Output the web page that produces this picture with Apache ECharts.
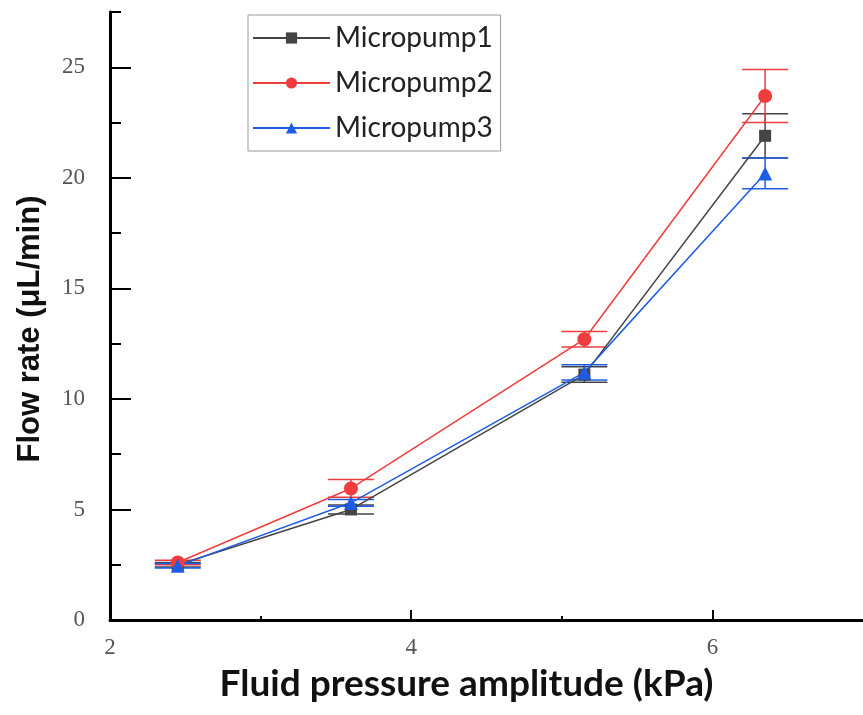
<!DOCTYPE html>
<html>
<head>
<meta charset="utf-8">
<script src="https://cdn.jsdelivr.net/npm/echarts@6/dist/echarts.min.js"></script>
<style>
  html, body { margin: 0; padding: 0; background: #fff; }
  #chart { width: 863px; height: 715px; }
</style>
</head>
<body>
<div id="chart"></div>
<script>
// pressure amplitude (kPa)
var pressure = [2.45, 3.6, 5.15, 6.35];

// flow rate means and error (uL/min)
var pump1 = [2.5, 5.0, 11.1, 21.9];
var pump1Err = [0.1, 0.2, 0.35, 1.0];
var pump2 = [2.6, 5.95, 12.7, 23.7];
var pump2Err = [0.1, 0.4, 0.35, 1.2];
var pump3 = [2.45, 5.3, 11.2, 20.2];
var pump3Err = [0.1, 0.15, 0.35, 0.7];

var names = ['Micropump1', 'Micropump2', 'Micropump3'];
var colors = ['#444444', '#f03c3c', '#1f5ce6'];

var xMajor = [2, 4, 6];
var xMinor = [3, 5];
var yMajor = [0, 5, 10, 15, 20, 25];
var yMinor = [2.5, 7.5, 12.5, 17.5, 22.5, 27.5];

function points(ys) {
    return pressure.map(function(x, i) { return [x, ys[i]]; });
}
function bars(ys, errs) {
    return pressure.map(function(x, i) { return [x, ys[i] - errs[i], ys[i] + errs[i]]; });
}

function errorBar(color) {
    return function(params, api) {
        var x = api.value(0);
        var lo = api.coord([x, api.value(1)]);
        var hi = api.coord([x, api.value(2)]);
        var w = 23;
        var st = { stroke: color, lineWidth: 1.5 };
        return {
            type: 'group',
            children: [
                { type: 'line', shape: { x1: hi[0], y1: hi[1], x2: lo[0], y2: lo[1] }, style: st },
                { type: 'line', shape: { x1: hi[0] - w, y1: hi[1], x2: hi[0] + w, y2: hi[1] }, style: st },
                { type: 'line', shape: { x1: lo[0] - w, y1: lo[1], x2: lo[0] + w, y2: lo[1] }, style: st }
            ]
        };
    };
}

var tickFont = { fontFamily: 'Liberation Serif', fontSize: 23, color: '#555' };

var chart = echarts.init(document.getElementById('chart'));
var option = {
    animation: false,
    grid: { left: 110, right: 0, top: 12, bottom: 95 },
    legend: {
        data: names,
        orient: 'vertical',
        left: 248,
        top: 15,
        padding: [9, 8, 9, 4],
        itemGap: 17,
        itemWidth: 77,
        itemHeight: 14,
        borderColor: '#999',
        borderWidth: 1,
        textStyle: { fontFamily: 'Lato', fontSize: 28, color: '#222' }
    },
    xAxis: [{
        type: 'value',
        min: 2,
        max: 7,
        name: 'Fluid pressure amplitude (kPa)',
        nameLocation: 'middle',
        nameGap: 46,
        nameTextStyle: { fontFamily: 'Lato', fontWeight: 'bold', fontSize: 37, color: '#111', padding: [0, 40, 0, 0] },
        axisLine: { lineStyle: { color: '#000', width: 3 } },
        axisTick: { inside: true, length: 10, customValues: xMajor, lineStyle: { color: '#000', width: 2 } },
        axisLabel: Object.assign({ margin: 16, customValues: xMajor }, tickFont),
        splitLine: { show: false }
    }, {
        type: 'value',
        min: 2,
        max: 7,
        position: 'bottom',
        axisLine: { show: false },
        axisTick: { inside: true, length: 4, customValues: xMinor, lineStyle: { color: '#000', width: 2 } },
        axisLabel: { show: false },
        splitLine: { show: false }
    }],
    yAxis: [{
        type: 'value',
        min: 0,
        max: 27.5,
        name: 'Flow rate (μL/min)',
        nameLocation: 'middle',
        nameGap: 64,
        nameTextStyle: { fontFamily: 'Liberation Sans', fontWeight: 'bold', fontSize: 31, color: '#111', padding: [0, 26, 0, 0] },
        axisLine: { show: true, lineStyle: { color: '#000', width: 3 } },
        axisTick: { show: true, inside: true, length: 21, customValues: yMajor, lineStyle: { color: '#000', width: 2 } },
        axisLabel: Object.assign({ margin: 25, customValues: yMajor }, tickFont),
        splitLine: { show: false }
    }, {
        type: 'value',
        min: 0,
        max: 27.5,
        position: 'left',
        axisLine: { show: false },
        axisTick: { show: true, inside: true, length: 11, customValues: yMinor, lineStyle: { color: '#000', width: 2 } },
        axisLabel: { show: false },
        splitLine: { show: false }
    }],
    series: [{
        name: 'err1', type: 'custom', renderItem: errorBar(colors[0]), data: bars(pump1, pump1Err), z: 3
    }, {
        name: 'err2', type: 'custom', renderItem: errorBar(colors[1]), data: bars(pump2, pump2Err), z: 3
    }, {
        name: 'err3', type: 'custom', renderItem: errorBar(colors[2]), data: bars(pump3, pump3Err), z: 3
    }, {
        name: names[0], type: 'line', data: points(pump1),
        symbol: 'rect', symbolSize: 12,
        lineStyle: { color: colors[0], width: 1.5 },
        itemStyle: { color: colors[0] }, z: 4
    }, {
        name: names[1], type: 'line', data: points(pump2),
        symbol: 'circle', symbolSize: 14,
        lineStyle: { color: colors[1], width: 1.5 },
        itemStyle: { color: colors[1] }, z: 4
    }, {
        name: names[2], type: 'line', data: points(pump3),
        symbol: 'triangle', symbolSize: 14,
        lineStyle: { color: colors[2], width: 1.5 },
        itemStyle: { color: colors[2] }, z: 4
    }]
};
chart.setOption(option);
</script>
</body>
</html>
